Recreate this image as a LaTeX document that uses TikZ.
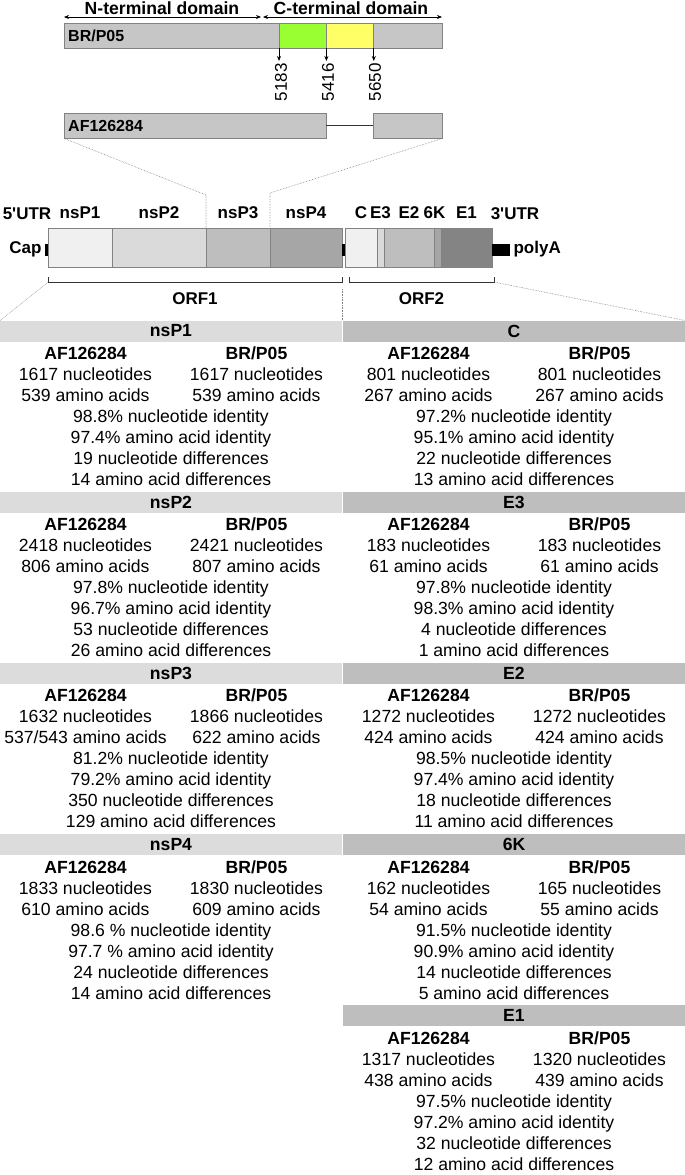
\documentclass[tikz,border=0pt]{standalone}
\usepackage{fontspec}
\setmainfont{Liberation Sans}
\usepackage{xcolor}
\usepackage{tikz}
\usetikzlibrary{arrows.meta, positioning, calc}

\definecolor{barfill}{RGB}{198,198,198}
\definecolor{bardraw}{RGB}{130,130,130}
\definecolor{ntgreen}{RGB}{153,255,51}
\definecolor{ntyellow}{RGB}{255,255,102}
\definecolor{hdrL}{RGB}{220,220,220}
\definecolor{hdrR}{RGB}{190,190,190}
\definecolor{gA}{RGB}{240,240,240}
\definecolor{gB}{RGB}{218,218,218}
\definecolor{gC}{RGB}{190,190,190}
\definecolor{gD}{RGB}{166,166,166}
\definecolor{gE}{RGB}{132,132,132}

\begin{document}
\begin{tikzpicture}[
    x=1pt, y=-1pt,
    bar/.style={rectangle, draw=bardraw, fill=barfill, minimum height=25pt, inner sep=0pt, anchor=north west},
    barlbl/.style={font=\bfseries\fontsize{16}{19}\selectfont, inner sep=0pt, anchor=west},
    seg/.style={rectangle, draw=bardraw, minimum height=39pt, inner sep=0pt, outer sep=0pt},
    blk/.style={rectangle, fill=black, minimum width=3pt, minimum height=12pt, inner sep=0pt},
    glbl/.style={font=\bfseries\fontsize{17}{20}\selectfont, inner sep=0pt},
    num/.style={font=\fontsize{17}{20}\selectfont, rotate=90, inner sep=0pt, anchor=east},
    dbl/.style={{Stealth[length=5pt,width=4pt]}-{Stealth[length=5pt,width=4pt]}, line width=0.6pt},
    tick/.style={-{Stealth[length=5pt,width=4pt]}, line width=0.8pt, shorten >=2pt},
    brk/.style={line width=0.6pt, black!80},
    zoomline/.style={densely dotted, gray, line width=0.6pt},
    hdr/.style={rectangle, minimum width=342pt, minimum height=21pt, inner sep=0pt, outer sep=0pt, font=\bfseries\fontsize{17.6}{21}\selectfont},
    colbox/.style={align=center, minimum width=171pt, inner sep=0pt, outer sep=0pt, font=\fontsize{17.6}{21}\selectfont},
    midbox/.style={align=center, inner sep=0pt, outer sep=0pt, font=\fontsize{17.6}{21}\selectfont}
]
\useasboundingbox (0,0) rectangle (685,1175);

% nsP3 detail: domains
\coordinate (nl) at (64,17);
\coordinate (nm) at (261,17);
\coordinate (nr) at (442,17);
\draw[dbl] (nl) -- (nm);
\draw[dbl] ([xshift=2pt]nm) -- (nr);
\node[glbl, font=\bfseries\fontsize{17.6}{20}\selectfont, anchor=base] (nterm) at (162,14) {N-terminal domain};
\node[glbl, font=\bfseries\fontsize{17.6}{20}\selectfont, anchor=base] (cterm) at (351,14) {C-terminal domain};

\node[bar, minimum width=378pt] (brp) at (64,23) {};
\node[bar, fill=ntgreen, minimum width=47pt] (gr) at (279,23) {};
\node[bar, fill=ntyellow, minimum width=47pt, right=0pt of gr] (yl) {};
\node[barlbl, right=4pt of brp.west] (brplbl) {BR/P05};

% positions
\node[num] (n1) at (281,63) {5183};
\node[num] (n2) at (328,63) {5416};
\node[num] (n3) at (375,63) {5650};
\draw[tick] (gr.south west) -- (gr.south west |- n1.east);
\draw[tick] (gr.south east) -- (gr.south east |- n2.east);
\draw[tick] (yl.south east) -- (yl.south east |- n3.east);

\node[bar, minimum width=262pt] (af) at (64,113) {};
\node[bar, minimum width=69pt] (af2) at (373,113) {};
\node[barlbl, right=4pt of af.west] (aflbl) {AF126284};
\draw[line width=1.4pt, black!80] (af) -- (af2);

% genome
\node[seg, fill=gA, minimum width=64pt, anchor=north west] (g1) at (48,228) {};
\node[seg, fill=gB, minimum width=94pt, right=0pt of g1] (g2) {};
\node[seg, fill=gC, minimum width=64pt, right=0pt of g2] (g3) {};
\node[seg, fill=gD, minimum width=72pt, right=0pt of g3] (g4) {};
\node[blk, right=0pt of g4, yshift=-2pt] (jn) {};
\node[seg, fill=gA, minimum width=32pt, anchor=north west] (sc) at (345,228) {};
\node[seg, fill=gB, minimum width=7pt, right=0pt of sc] (se3) {};
\node[seg, fill=gC, minimum width=50pt, right=0pt of se3] (se2) {};
\node[seg, fill=gD, minimum width=7pt, right=0pt of se2] (s6k) {};
\node[seg, fill=gE, minimum width=51pt, right=0pt of s6k] (se1) {};
\node[blk, left=0pt of g1, yshift=-2pt] (cap) {};
\node[blk, minimum width=18pt, right=0pt of se1, yshift=-2pt] (pa) {};
\node[glbl, left=3pt of cap] (caplbl) {Cap};
\node[glbl, right=3pt of pa] (palbl) {polyA};

\node[glbl, anchor=base] (utr5) at (27,219) {5\textquotesingle UTR};
\node[glbl, above=9pt of g1] (l1) {nsP1};
\node[glbl, above=9pt of g2] (l2) {nsP2};
\node[glbl, above=9pt of g3] (l3) {nsP3};
\node[glbl, above=9pt of g4] (l4) {nsP4};
\node[glbl, above=9pt of sc] (lc) {C};
\node[glbl, above=9pt of se3] (le3) {E3};
\node[glbl, above=9pt of se2] (le2) {E2};
\node[glbl, above=9pt of s6k, xshift=-3pt] (l6k) {6K};
\node[glbl, above=9pt of se1] (le1) {E1};
\node[glbl, anchor=base] (utr3) at (515,219) {3\textquotesingle UTR};

% zoom lines to nsP3
\draw[zoomline] (af.south west) -- ([yshift=33pt]g3.north west) -- (g3.north west);
\draw[zoomline] (af2.south east) -- ([yshift=35pt]g4.north west) -- (g4.north west);

% ORF brackets
\coordinate (o1l) at ([yshift=-10pt]g1.south west);
\coordinate (o1r) at ([yshift=-10pt]g4.south east);
\coordinate (o1a) at ([yshift=-15pt]g1.south west);
\coordinate (o2l) at ([xshift=4pt, yshift=-10pt]sc.south west);
\coordinate (o2r) at ([xshift=2pt, yshift=-10pt]se1.south east);
\coordinate (o2b) at ([xshift=2pt, yshift=-15pt]se1.south east);
\draw[brk] (o1l) -- (o1a) -| (o1r);
\draw[brk] (o2l) -- ++(0,5) -| (o2r);
\path (o1l) -- (o1r) node[midway, glbl, below=15pt] (orf1) {ORF1};
\path (o2l) -- (o2r) node[midway, glbl, below=15pt] (orf2) {ORF2};

% table, left column
\node[hdr, fill=hdrL, anchor=north west] (p1) at (0,320.5) {nsP1};
\node[colbox, below right=3.2pt and 0pt of p1.south west] (p1a) {\strut\textbf{AF126284}\\1617 nucleotides\\539 amino acids\strut};
\node[colbox, below left=3.2pt and 0pt of p1.south east] (p1b) {\strut\textbf{BR/P05}\\1617 nucleotides\\539 amino acids\strut};
\node[midbox, below=0pt of p1a.south east] (p1c) {\strut 98.8\% nucleotide identity\\97.4\% amino acid identity\\19 nucleotide differences\\14 amino acid differences\strut};

\node[hdr, fill=hdrL, below=0pt of p1c] (p2) {nsP2};
\node[colbox, below right=3.2pt and 0pt of p2.south west] (p2a) {\strut\textbf{AF126284}\\2418 nucleotides\\806 amino acids\strut};
\node[colbox, below left=3.2pt and 0pt of p2.south east] (p2b) {\strut\textbf{BR/P05}\\2421 nucleotides\\807 amino acids\strut};
\node[midbox, below=0pt of p2a.south east] (p2c) {\strut 97.8\% nucleotide identity\\96.7\% amino acid identity\\53 nucleotide differences\\26 amino acid differences\strut};

\node[hdr, fill=hdrL, below=0pt of p2c] (p3) {nsP3};
\node[colbox, below right=3.2pt and 0pt of p3.south west] (p3a) {\strut\textbf{AF126284}\\1632 nucleotides\\537/543 amino acids\strut};
\node[colbox, below left=3.2pt and 0pt of p3.south east] (p3b) {\strut\textbf{BR/P05}\\1866 nucleotides\\622 amino acids\strut};
\node[midbox, below=0pt of p3a.south east] (p3c) {\strut 81.2\% nucleotide identity\\79.2\% amino acid identity\\350 nucleotide differences\\129 amino acid differences\strut};

\node[hdr, fill=hdrL, below=0pt of p3c] (p4) {nsP4};
\node[colbox, below right=3.2pt and 0pt of p4.south west] (p4a) {\strut\textbf{AF126284}\\1833 nucleotides\\610 amino acids\strut};
\node[colbox, below left=3.2pt and 0pt of p4.south east] (p4b) {\strut\textbf{BR/P05}\\1830 nucleotides\\609 amino acids\strut};
\node[midbox, below=0pt of p4a.south east] (p4c) {\strut 98.6 \% nucleotide identity\\97.7 \% amino acid identity\\24 nucleotide differences\\14 amino acid differences\strut};

% table, right column
\node[hdr, fill=hdrR, right=1pt of p1] (c1) {C};
\node[colbox, below right=3.2pt and 0pt of c1.south west] (c1a) {\strut\textbf{AF126284}\\801 nucleotides\\267 amino acids\strut};
\node[colbox, below left=3.2pt and 0pt of c1.south east] (c1b) {\strut\textbf{BR/P05}\\801 nucleotides\\267 amino acids\strut};
\node[midbox, below=0pt of c1a.south east] (c1c) {\strut 97.2\% nucleotide identity\\95.1\% amino acid identity\\22 nucleotide differences\\13 amino acid differences\strut};

\node[hdr, fill=hdrR, below=0pt of c1c] (c2) {E3};
\node[colbox, below right=3.2pt and 0pt of c2.south west] (c2a) {\strut\textbf{AF126284}\\183 nucleotides\\61 amino acids\strut};
\node[colbox, below left=3.2pt and 0pt of c2.south east] (c2b) {\strut\textbf{BR/P05}\\183 nucleotides\\61 amino acids\strut};
\node[midbox, below=0pt of c2a.south east] (c2c) {\strut 97.8\% nucleotide identity\\98.3\% amino acid identity\\4 nucleotide differences\\1 amino acid differences\strut};

\node[hdr, fill=hdrR, below=0pt of c2c] (c3) {E2};
\node[colbox, below right=3.2pt and 0pt of c3.south west] (c3a) {\strut\textbf{AF126284}\\1272 nucleotides\\424 amino acids\strut};
\node[colbox, below left=3.2pt and 0pt of c3.south east] (c3b) {\strut\textbf{BR/P05}\\1272 nucleotides\\424 amino acids\strut};
\node[midbox, below=0pt of c3a.south east] (c3c) {\strut 98.5\% nucleotide identity\\97.4\% amino acid identity\\18 nucleotide differences\\11 amino acid differences\strut};

\node[hdr, fill=hdrR, below=0pt of c3c] (c4) {6K};
\node[colbox, below right=3.2pt and 0pt of c4.south west] (c4a) {\strut\textbf{AF126284}\\162 nucleotides\\54 amino acids\strut};
\node[colbox, below left=3.2pt and 0pt of c4.south east] (c4b) {\strut\textbf{BR/P05}\\165 nucleotides\\55 amino acids\strut};
\node[midbox, below=0pt of c4a.south east] (c4c) {\strut 91.5\% nucleotide identity\\90.9\% amino acid identity\\14 nucleotide differences\\5 amino acid differences\strut};

\node[hdr, fill=hdrR, below=0pt of c4c] (c5) {E1};
\node[colbox, below right=3.2pt and 0pt of c5.south west] (c5a) {\strut\textbf{AF126284}\\1317 nucleotides\\438 amino acids\strut};
\node[colbox, below left=3.2pt and 0pt of c5.south east] (c5b) {\strut\textbf{BR/P05}\\1320 nucleotides\\439 amino acids\strut};
\node[midbox, below=0pt of c5a.south east] (c5c) {\strut 97.5\% nucleotide identity\\97.2\% amino acid identity\\32 nucleotide differences\\12 amino acid differences\strut};

% zoom lines to table
\draw[zoomline] (o1a) -- (p1.north west);
\draw[zoomline] ([yshift=-22pt]g4.south east) -- (p1.north east);
\draw[zoomline] (o2b) -- (c1.north east);
\end{tikzpicture}
\end{document}
